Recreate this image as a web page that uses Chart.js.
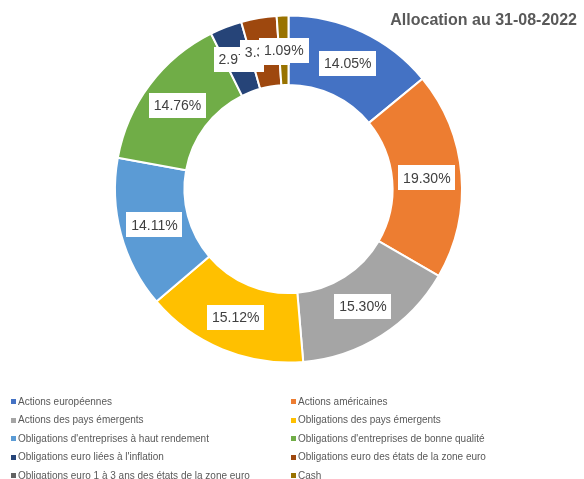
<!DOCTYPE html>
<html>
<head>
<meta charset="utf-8">
<script src="https://cdn.jsdelivr.net/npm/chart.js@4"></script>
<style>
  html, body { margin: 0; padding: 0; background: #ffffff; }
  #wrap { width: 584px; height: 479px; position: relative; }
</style>
</head>
<body>
<div id="wrap"><canvas id="allocChart" width="584" height="479"></canvas></div>
<script>
// Allocation data
const categories = [
  "Actions européennes",
  "Actions américaines",
  "Actions des pays émergents",
  "Obligations des pays émergents",
  "Obligations d'entreprises à haut rendement",
  "Obligations d'entreprises de bonne qualité",
  "Obligations euro liées à l'inflation",
  "Obligations euro des états de la zone euro",
  "Obligations euro 1 à 3 ans des états de la zone euro",
  "Cash",
];
const weights = [14.05, 19.3, 15.3, 15.12, 14.11, 14.76, 2.97, 3.3, 0, 1.09];
const sliceColors = [
  "#4472C4", "#ED7D31", "#A5A5A5", "#FFC000", "#5B9BD5",
  "#70AD47", "#264478", "#9E480E", "#636363", "#997300",
];
const chartTitle = "Allocation au 31-08-2022";

const textColor = "#595959";
const labelFont = '14px "Liberation Sans", Arial, sans-serif';

// white boxed percentage labels on each slice
const sliceLabels = {
  id: "sliceLabels",
  afterDatasetsDraw(chart) {
    const ctx = chart.ctx;
    const arcs = chart.getDatasetMeta(0).data;
    ctx.save();
    ctx.font = labelFont;
    ctx.textAlign = "center";
    ctx.textBaseline = "middle";
    arcs.forEach((arc, i) => {
      const v = weights[i];
      if (!v) return;
      const pos = arc.tooltipPosition();
      const txt = v.toFixed(2) + "%";
      const w = ctx.measureText(txt).width + 10;
      const h = 25;
      ctx.fillStyle = "#ffffff";
      ctx.fillRect(Math.round(pos.x - w / 2), Math.round(pos.y - h / 2), Math.round(w), h);
      ctx.fillStyle = "#404040";
      ctx.fillText(txt, pos.x, pos.y + 1);
    });
    ctx.restore();
  },
};

// title in the top right corner + two column legend at the bottom
const titleAndLegend = {
  id: "titleAndLegend",
  afterDraw(chart) {
    const ctx = chart.ctx;
    ctx.save();
    ctx.fillStyle = textColor;
    ctx.font = 'bold 16px "Liberation Sans", Arial, sans-serif';
    ctx.textAlign = "right";
    ctx.textBaseline = "middle";
    ctx.fillText(chartTitle, 577, 21);

    ctx.font = '10px "Liberation Sans", Arial, sans-serif';
    ctx.textAlign = "left";
    const colX = [11, 291];
    const rowY = 402;
    const rowH = 18.5;
    categories.forEach((name, i) => {
      const x = colX[i % 2];
      const y = rowY + Math.floor(i / 2) * rowH;
      ctx.fillStyle = sliceColors[i];
      ctx.fillRect(x, Math.round(y - 3), 5, 5);
      ctx.fillStyle = textColor;
      ctx.fillText(name, x + 7, y);
    });
    ctx.restore();
  },
};

const ctx = document.getElementById("allocChart").getContext("2d");
new Chart(ctx, {
  type: "doughnut",
  data: {
    labels: categories,
    datasets: [
      {
        data: weights,
        backgroundColor: sliceColors,
        borderColor: "#ffffff",
        borderWidth: 2,
      },
    ],
  },
  options: {
    animation: false,
    responsive: false,
    cutout: "60%",
    layout: {
      padding: { top: 14.5, bottom: 115.5, left: 0, right: 7 },
    },
    plugins: {
      legend: { display: false },
      title: { display: false },
      tooltip: { enabled: false },
    },
  },
  plugins: [sliceLabels, titleAndLegend],
});
</script>
</body>
</html>
